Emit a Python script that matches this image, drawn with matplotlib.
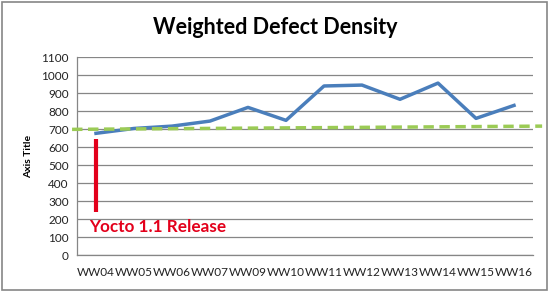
import matplotlib
matplotlib.use("Agg")
import matplotlib.pyplot as plt
from matplotlib.patches import Rectangle

weeks = ["WW04", "WW05", "WW06", "WW07", "WW09", "WW10", "WW11", "WW12",
         "WW13", "WW14", "WW15", "WW16"]
density = [676, 703, 716, 744, 820, 748, 939, 944, 865, 955, 759, 831]
trend_x = [-0.63, 11.74]
trend_y = [698, 716]
release_x = 0
release_y = [239, 644]
release_label = "Yocto 1.1 Release"
yticks = list(range(0, 1101, 100))

plt.rcParams['font.family'] = ['Lato', 'DejaVu Sans']

W, H = 550, 291
fig = plt.figure(figsize=(W / 100, H / 100), dpi=100)
ax = fig.add_axes([77 / W, 1 - 255 / H, (533 - 77) / W, (255 - 57) / H])

x = list(range(len(weeks)))
ax.plot(x, density, color="#4a7ebb", lw=2.5, solid_joinstyle="round", zorder=3)
ax.plot(trend_x, trend_y, color="#9bcb55", lw=2.5, ls=(0, (3, 1.6)),
        clip_on=False, zorder=4)
ax.plot([release_x, release_x], release_y, color="#e3001b", lw=3, zorder=5,
        solid_capstyle="butt")
ax.text(release_x - 0.17, 154, release_label, color="#e3001b", fontsize=12.3,
        fontweight="bold", va="center", ha="left")

ax.set_xlim(-0.5, len(weeks) - 0.5)
ax.set_ylim(0, 1100)
ax.set_yticks(yticks)
ax.set_xticks(x)
ax.set_xticklabels(weeks)
ax.grid(axis="y", color="#868686", lw=0.9)
ax.set_axisbelow(True)
for s in ["top", "right"]:
    ax.spines[s].set_visible(False)
for s in ["left", "bottom"]:
    ax.spines[s].set_color("#868686")
    ax.spines[s].set_linewidth(0.9)
ax.tick_params(axis="both", length=0, labelsize=8.5, colors="#222222")
ax.tick_params(axis="x", pad=9)
ax.tick_params(axis="y", pad=6)
ax.set_ylabel("Axis Title", fontsize=7.5, fontweight="bold", labelpad=6)

fig.text(275 / W, 1 - 27 / H, "Weighted Defect Density", ha="center",
         va="center", fontsize=15.5, fontweight="bold")
fig.patches.append(Rectangle((1.5 / W, 1.5 / H), (547 - 1.5) / W,
                             (289 - 1.5) / H, transform=fig.transFigure,
                             fill=False, edgecolor="#868686", lw=1.2))

fig.savefig("out.png", dpi=100)
